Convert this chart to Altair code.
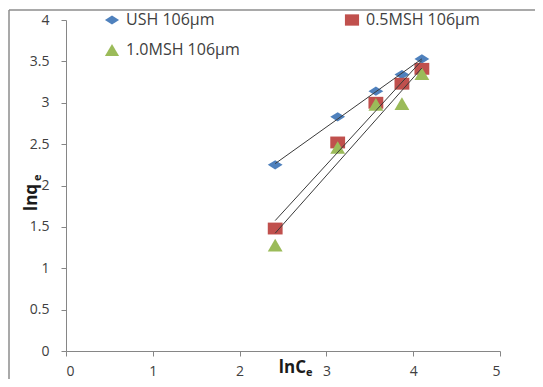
import altair as alt
import pandas as pd

# ---- data ----
ln_ce = [2.41, 3.13, 3.57, 3.87, 4.10]
ush_106 = [2.25, 2.83, 3.14, 3.34, 3.53]
msh05_106 = [1.48, 2.52, 3.00, 3.23, 3.41]
msh10_106 = [1.28, 2.46, 2.98, 2.99, 3.35]

series_names = ["USH 106μm", "0.5MSH 106μm", "1.0MSH 106μm"]
series_colors = ["#4F81BD", "#C0504D", "#9BBB59"]
series_shapes = [
    "M-1,0L0,-0.62L1,0L0,0.62Z",          # diamond (flattened)
    "M-1,-0.8L1,-0.8L1,0.8L-1,0.8Z",      # square
    "M-1,0.85L0,-0.85L1,0.85Z",           # triangle
]

x_ticks = [0, 1, 2, 3, 4, 5]
y_ticks = [0, 0.5, 1, 1.5, 2, 2.5, 3, 3.5, 4]

x_title_main, x_title_sub = "lnC", "e"
y_title_main, y_title_sub = "lnq", "e"

rows = []
for name, ys in zip(series_names, [ush_106, msh05_106, msh10_106]):
    for xv, yv in zip(ln_ce, ys):
        rows.append({"x": xv, "y": yv, "series": name})
df = pd.DataFrame(rows)

W, H = 434, 331
FONT = "Open Sans"

xs = alt.Scale(domain=[0, 5], nice=False, zero=False)
ys_ = alt.Scale(domain=[0, 4], nice=False, zero=False)

base = alt.Chart(df)

points = base.mark_point(filled=True, opacity=1, strokeWidth=0).encode(
    x=alt.X("x:Q", scale=xs,
            axis=alt.Axis(values=x_ticks, title=None, labelExpr="datum.value")),
    y=alt.Y("y:Q", scale=ys_,
            axis=alt.Axis(values=y_ticks, title=None, labelExpr="datum.value")),
    color=alt.Color("series:N", scale=alt.Scale(domain=series_names, range=series_colors),
                    legend=alt.Legend(title=None, orient="none", legendX=38, legendY=-8,
                                      direction="horizontal", columns=2, columnPadding=104,
                                      rowPadding=14,
                                      labelFontSize=16, labelFont=FONT, labelColor="#404040",
                                      symbolSize=200, labelOffset=6, symbolStrokeWidth=0)),
    shape=alt.Shape("series:N", scale=alt.Scale(domain=series_names, range=series_shapes)),
    size=alt.value(220),
    order=alt.Order("ord:Q"),
).transform_calculate(
    ord="indexof(%s, datum.series)" % str(series_names)
)

lines = base.transform_regression("x", "y", groupby=["series"]).mark_line(
    color="#3a3a3a", strokeWidth=1
).encode(x=alt.X("x:Q", scale=xs), y=alt.Y("y:Q", scale=ys_), detail="series:N")

one = alt.Data(values=[{"a": 1}])
xt_main = alt.Chart(one).mark_text(fontSize=17, fontWeight="bold", font=FONT, color="#1a1a1a",
                                   align="right", baseline="alphabetic").encode(
    x=alt.value(240), y=alt.value(353), text=alt.value(x_title_main))
xt_sub = alt.Chart(one).mark_text(fontSize=11, fontWeight="bold", font=FONT, color="#1a1a1a",
                                  align="left", baseline="alphabetic").encode(
    x=alt.value(240), y=alt.value(356), text=alt.value(x_title_sub))
yt_main = alt.Chart(one).mark_text(fontSize=17, fontWeight="bold", font=FONT, color="#1a1a1a",
                                   align="left", baseline="alphabetic", angle=270).encode(
    x=alt.value(-29), y=alt.value(191), text=alt.value(y_title_main))
yt_sub = alt.Chart(one).mark_text(fontSize=11, fontWeight="bold", font=FONT, color="#1a1a1a",
                                  align="left", baseline="alphabetic", angle=270).encode(
    x=alt.value(-25), y=alt.value(161), text=alt.value(y_title_sub))

frame_left = alt.Chart(one).mark_rule(color="#8c8c8c", strokeWidth=1.5).encode(
    x=alt.value(-57), y=alt.value(-10), y2=alt.value(H + 40))
frame_top = alt.Chart(one).mark_rule(color="#8c8c8c", strokeWidth=1.5).encode(
    x=alt.value(-57), x2=alt.value(W + 40), y=alt.value(-10))

chart = alt.layer(frame_left, frame_top, points, lines, xt_main, xt_sub, yt_main, yt_sub).properties(
    width=W, height=H,
    autosize=alt.AutoSizeParams(type="none"),
    padding={"left": 58, "top": 12, "right": 35, "bottom": 28},
).configure_view(stroke=None).configure_axis(
    grid=False, domainColor="#868686", tickColor="#868686", tickSize=5,
    labelColor="#404040", labelFont=FONT, labelFontSize=14,
).configure_axisX(labelPadding=8).configure_axisY(labelPadding=12)

chart.save("out.html", embed_options={"renderer": "svg", "actions": False})
